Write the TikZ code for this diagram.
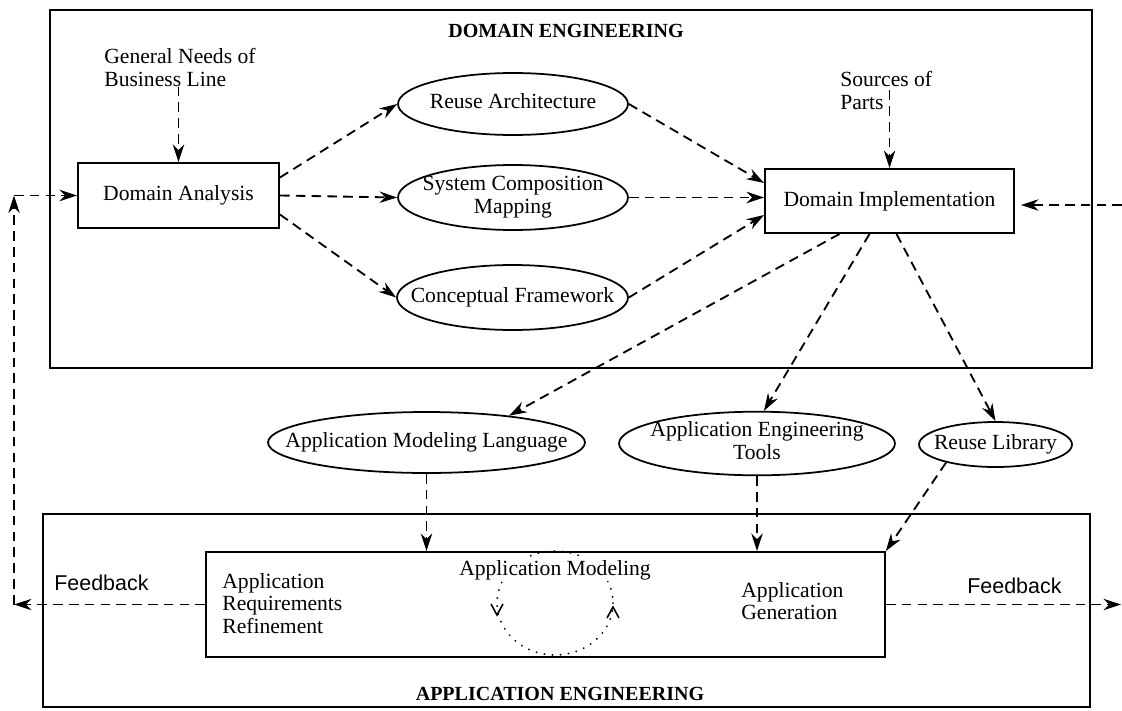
\documentclass[tikz,border=0pt]{standalone}
\usepackage{fontspec}
\setmainfont{Liberation Serif}
\newfontfamily\fbfont{Liberation Sans}
\usetikzlibrary{shapes.geometric,arrows.meta,calc}

\tikzset{
  box/.style={draw, line width=1.1pt, inner sep=0pt},
  ell/.style={ellipse, draw, line width=1pt, inner sep=0pt},
  flow/.style={line width=1.05pt, dash pattern=on 5.5pt off 3.5pt, -{Stealth[length=10pt,width=6.5pt]}},
  lbl/.style={inner sep=0pt, align=left, anchor=north west},
  ttl/.style={font=\fontsize{11.4}{13}\selectfont\bfseries, anchor=base, inner sep=0pt},
  fb/.style={font=\fontsize{12.2}{14}\selectfont\fbfont, anchor=base west, inner sep=0pt},
  loopline/.style={line width=1.1pt, dash pattern=on 0.1pt off 4.5pt, line cap=round},
  chev/.style={line width=0.9pt}
}
\newcommand{\ellbox}[1]{\makebox[0pt]{\begin{tabular}{@{}c@{}}#1\end{tabular}}}

\begin{document}
\begin{tikzpicture}[x=0.02cm, y=-0.02cm, font=\fontsize{12.3}{12.8}\selectfont]
        \useasboundingbox (0,0) rectangle (1122,710);
        % domain engineering
        \draw[line width=1.1pt] (50,10) rectangle (1092,368);
        \node[ttl] (domt) at (566,37) {DOMAIN ENGINEERING};
        \node[lbl] (gen) at (104,48) {General Needs of\\Business Line};
        \node[lbl] (src) at (840,71) {Sources of\\Parts};
        \node[box, minimum width=4.02cm, minimum height=1.3cm] (da) at (178.5,195.5) {Domain Analysis};
        \node[box, minimum width=4.98cm, minimum height=1.28cm] (di) at (889.5,201) {Domain Implementation};
        \node[ell, minimum width=4.6cm, minimum height=1.24cm] (ra) at (513,104) {\ellbox{Reuse Architecture}};
        \node[ell, minimum width=4.6cm, minimum height=1.3cm] (scm) at (513,197.5) {\ellbox{System Composition\\Mapping}};
        \node[ell, minimum width=4.62cm, minimum height=1.3cm] (cf) at (512.5,297.5) {\ellbox{Conceptual Framework}};
        % products
        \node[ell, minimum width=6.34cm, minimum height=1.22cm] (aml) at (426.5,442.5) {\ellbox{Application Modeling Language}};
        \node[ell, minimum width=5.52cm, minimum height=1.26cm] (aet) at (757,443.5) {\ellbox{Application Engineering\\Tools}};
        \node[ell, minimum width=3.06cm, minimum height=0.9cm] (rl) at (995.5,444.5) {\ellbox{Reuse Library}};
        % application engineering
        \draw[line width=1.1pt] (43,514) rectangle (1090,707);
        \node[ttl] (appt) at (560,700) {APPLICATION ENGINEERING};
        \node[box, minimum width=13.58cm, minimum height=2.1cm] (model) at (545.5,604.5) {};
        \node[lbl] (req) at (222,573) {Application\\Requirements\\Refinement};
        \node[lbl] (appgen) at (741,582) {Application\\Generation};
        \draw[loopline] (555,603) ellipse [x radius=58, y radius=52];
        \draw[chev] (491,604) -- (497,615) -- (503,604); % down
        \draw[chev] (607,618) -- (613,607) -- (619,618); % up
        \node[anchor=base, inner sep=1pt, fill=white] (amod) at (555,575) {Application Modeling};
        \node[fb] (fbleft) at (54,590) {Feedback};
        \node[fb] (fbright) at (967,593) {Feedback};
        \coordinate (inr) at (1122,205);
        \coordinate (fbl) at (14,604.5);
        \coordinate (fbt) at (14,195.5);
        \coordinate (fbr) at (1121,604.5);
        % connectors
        \draw[flow] (gen.south -| da.north) -- (da.north);
        \draw[flow] (src.center -| di.north) -- (di.north);
        \draw[flow] ($(da.east)+(0,-18)$) -- (ra.west);
        \draw[flow] (da.east) -- (scm.west);
        \draw[flow] ($(da.east)+(0,19)$) -- (cf.west);
        \draw[flow] (ra.east) -- ($(di.west)+(0,-18)$);
        \draw[flow] (scm.east) -- (scm.east -| di.west);
        \draw[flow] (cf.east) -- ($(di.west)+(0,14)$);
        \draw[flow] (inr) -- ($(di.east)+(6,4)$);
        \draw[flow] ($(di.south)+(-50,0)$) -- (aml.18);
        \draw[flow] ($(di.south)+(-20,0)$) -- (aet.78);
        \draw[flow] ($(di.south)+(7,0)$) -- (rl.north);
        \draw[flow] (aml.south) -- (aml.south |- model.north);
        \draw[flow] (aet.south) -- (aet.south |- model.north);
        \draw[flow] (rl.200) -- (model.north east);
        \draw[flow] (model.west) -- (fbl);
        \draw[flow] (fbl) -- (fbt);
        \draw[flow] (fbt) -- (da.west);
        \draw[flow] (model.east) -- (fbr);
\end{tikzpicture}
\end{document}
